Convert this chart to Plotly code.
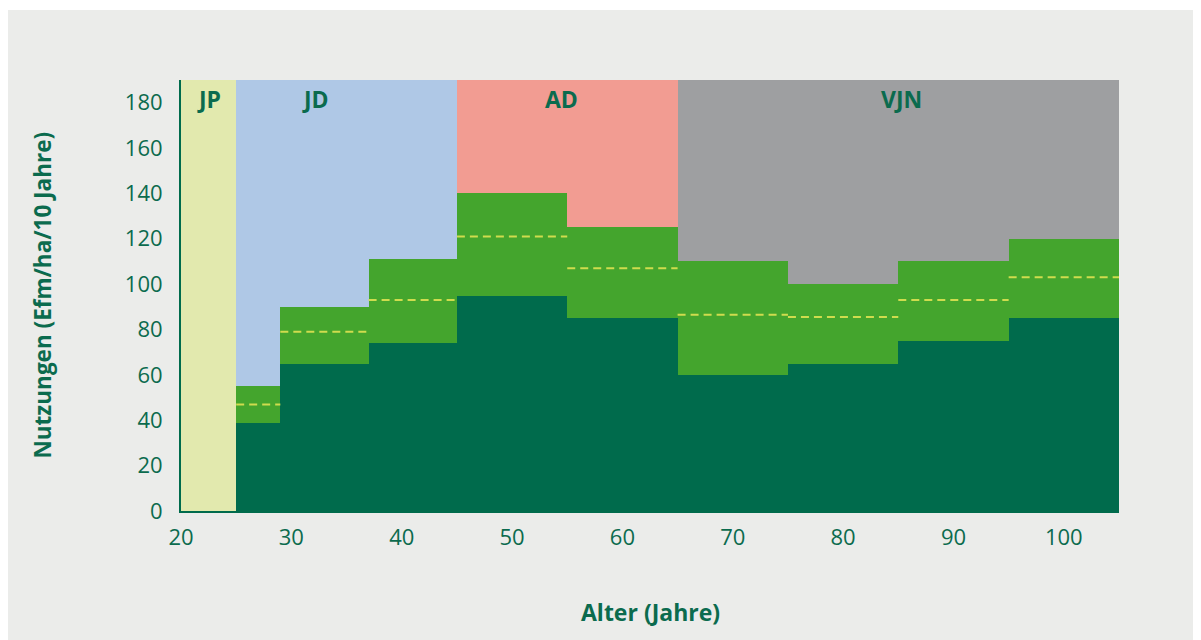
import plotly.graph_objects as go

# Phase regions (age bands)
region_names = ["JP", "JD", "AD", "VJN"]
region_edges = [20, 25, 45, 65, 105]
region_colors = ["#e2e9ae", "#afc8e6", "#f29c92", "#9e9fa1"]
region_label_x = [22.5, 32.2, 54.5, 85.3]
region_top = 190

# Age classes (bin edges, years)
bin_edges = [25, 29, 37, 45, 55, 65, 75, 85, 95, 105]
# Harvest volumes (Efm/ha/10 Jahre)
lower_vals = [39, 65, 74, 95, 85, 60, 65, 75, 85]
upper_vals = [55, 90, 111, 140, 125, 110, 100, 110, 120]
mean_vals = [47, 79, 93, 121, 107, 86.5, 85.5, 93, 103]

x_ticks = [20, 30, 40, 50, 60, 70, 80, 90, 100]
y_ticks = [0, 20, 40, 60, 80, 100, 120, 140, 160, 180]

DARK = "#006b4c"
LIGHT = "#44a52d"
TEXT = "#0b6b4e"
FONT = "Open Sans"

# plot-area geometry in figure pixels
L, R, T, B = 173, 90, 72, 137
PW, PH = 1201 - L - R, 640 - T - B

fig = go.Figure()

r_centers = [(a + b) / 2 for a, b in zip(region_edges[:-1], region_edges[1:])]
r_widths = [b - a for a, b in zip(region_edges[:-1], region_edges[1:])]
fig.add_trace(go.Bar(x=r_centers, y=[region_top] * len(r_centers), width=r_widths,
                     base=0, marker=dict(color=region_colors, line=dict(width=0)),
                     hoverinfo="skip", showlegend=False))

centers = [(a + b) / 2 for a, b in zip(bin_edges[:-1], bin_edges[1:])]
widths = [b - a for a, b in zip(bin_edges[:-1], bin_edges[1:])]

fig.add_trace(go.Bar(x=centers, y=lower_vals, width=widths, base=0,
                     marker=dict(color=DARK, line=dict(width=0)), showlegend=False))
fig.add_trace(go.Bar(x=centers, y=[u - l for u, l in zip(upper_vals, lower_vals)],
                     width=widths, base=lower_vals,
                     marker=dict(color=LIGHT, line=dict(width=0)), showlegend=False))

mx, my = [], []
for a, b, m in zip(bin_edges[:-1], bin_edges[1:], mean_vals):
    mx += [a, b, None]
    my += [m, m, None]
fig.add_trace(go.Scatter(x=mx, y=my, mode="lines",
                         line=dict(color="#cfdc4e", width=2, dash="8px,5px"),
                         showlegend=False, hoverinfo="skip"))

annotations = []
for name, lx in zip(region_names, region_label_x):
    annotations.append(dict(x=lx, y=181.5, xref="x", yref="y", text="<b>%s</b>" % name,
                            xanchor="center", yanchor="middle",
                            showarrow=False, font=dict(family=FONT, size=23, color=TEXT)))
annotations.append(dict(x=(34 - L) / PW, y=0.5, xref="paper", yref="paper",
                        xanchor="center", yanchor="middle",
                        text="<b>Nutzungen (Efm/ha/10 Jahre)</b>", textangle=-90,
                        showarrow=False, font=dict(family=FONT, size=22.5, color=TEXT)))
annotations.append(dict(x=0.5, y=(PH + T - 604) / PH, xref="paper", yref="paper",
                        xanchor="center", yanchor="middle",
                        text="<b>Alter (Jahre)</b>", showarrow=False,
                        font=dict(family=FONT, size=23, color=TEXT)))

fig.update_layout(
    width=1201, height=640,
    margin=dict(l=L, r=R, t=T, b=B),
    barmode="overlay", bargap=0,
    paper_bgcolor="white", plot_bgcolor="rgba(0,0,0,0)",
    font=dict(family=FONT, color=TEXT, size=22),
    annotations=annotations,
    shapes=[dict(type="rect", xref="paper", yref="paper", layer="below",
                 x0=(0 - L) / PW, x1=(1201 - L) / PW,
                 y0=(PH + T - 640) / PH, y1=(PH + T - 2) / PH,
                 fillcolor="#ebecea", line=dict(width=0))],
    xaxis=dict(range=[20, 105], tickvals=x_ticks, ticktext=[str(v) for v in x_ticks],
               showgrid=False, zeroline=False, showline=True, linecolor=DARK, linewidth=2,
               ticks="", ticklabelstandoff=6, tickfont=dict(size=22, color=TEXT)),
    yaxis=dict(range=[0, 190], tickvals=y_ticks, showgrid=False, zeroline=False,
               showline=True, linecolor=DARK, linewidth=2, ticks="",
               ticklabelstandoff=12, tickfont=dict(size=22, color=TEXT)),
)

fig.write_html("out.html")
